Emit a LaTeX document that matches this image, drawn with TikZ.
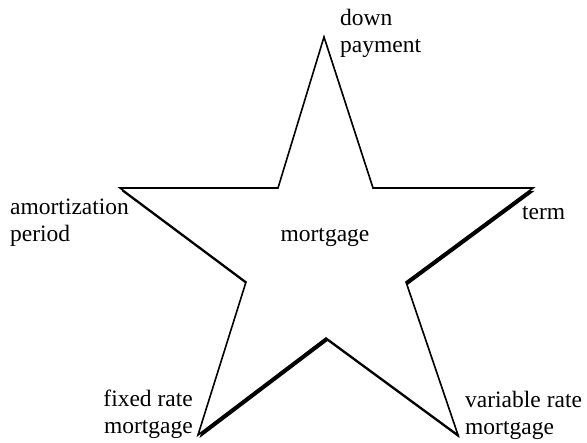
\documentclass[tikz,border=0pt]{standalone}
\usepackage{fontspec}
\setmainfont{Liberation Serif}
\tikzset{
  lbl/.style={inner sep=0pt, font=\fontsize{23.5}{27}\selectfont},
}
% star corners
\newcommand{\starpath}{(324,37) -- (373,188) -- (533,188) -- (406,282) -- (458,435) -- (326,338) -- (198,435) -- (246,282) -- (120,188) -- (278,188) -- cycle}
\begin{document}
\begin{tikzpicture}[x=1pt, y=-1pt]
    \useasboundingbox (0,0) rectangle (587,443);

    % shadow, then the star
    \begin{scope}[shift={(1.5,3)}]
      \fill[black] \starpath;
    \end{scope}
    \draw[fill=white, line width=1.6pt, line join=miter] \starpath;

    \node[lbl, anchor=base] (mort) at (325,242) {mortgage};
    \node[lbl, anchor=base west, align=left] (down) at (340,53) {down\\payment};
    \node[lbl, anchor=base west, align=left] (amort) at (10,242) {amortization\\period};
    \node[lbl, anchor=base west] (term) at (522,220) {term};
    \node[lbl, anchor=base east, align=right] (fixed) at (193,434) {fixed rate\\mortgage};
    \node[lbl, anchor=base west, align=left] (var) at (465,435) {variable rate\\mortgage};

  \end{tikzpicture}
\end{document}
